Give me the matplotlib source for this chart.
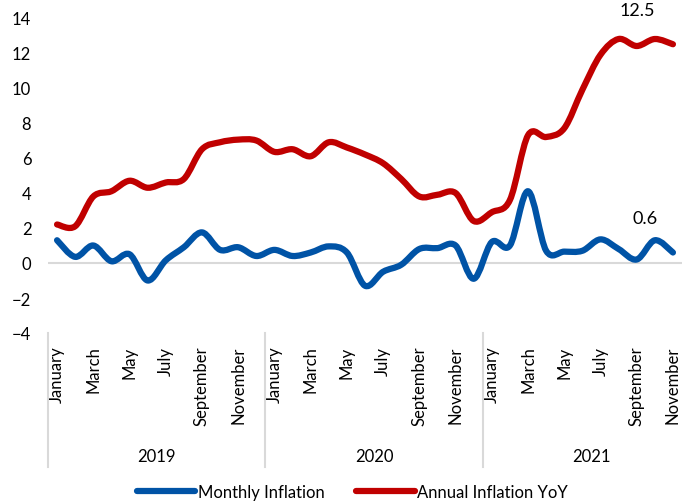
import matplotlib
matplotlib.use("Agg")
import matplotlib.pyplot as plt
from matplotlib.path import Path
from matplotlib.patches import PathPatch
from matplotlib.lines import Line2D
import matplotlib.transforms as mtransforms
import numpy as np

plt.rcParams['font.family'] = ['Lato', 'DejaVu Sans']

# Jan 2019 .. Nov 2021
months = ['January', 'February', 'March', 'April', 'May', 'June', 'July',
          'August', 'September', 'October', 'November', 'December'] * 2 + \
         ['January', 'February', 'March', 'April', 'May', 'June', 'July',
          'August', 'September', 'October', 'November']
years = ['2019', '2020', '2021']
year_counts = [12, 12, 11]

monthly = [1.3, 0.35, 1.0, 0.1, 0.5, -1.0, 0.15, 0.9, 1.75, 0.75, 0.9, 0.4,
           0.75, 0.4, 0.6, 0.95, 0.6, -1.3, -0.5, -0.1, 0.8, 0.85, 1.0, -0.9,
           1.2, 1.0, 4.1, 0.7, 0.65, 0.7, 1.35, 0.8, 0.2, 1.3, 0.6]
annual = [2.2, 2.1, 3.8, 4.1, 4.7, 4.3, 4.6, 4.8, 6.5, 6.9, 7.05, 7.0,
          6.35, 6.5, 6.1, 6.9, 6.6, 6.2, 5.7, 4.8, 3.8, 3.9, 4.0, 2.4,
          2.9, 3.6, 7.3, 7.2, 7.7, 9.9, 11.9, 12.8, 12.4, 12.8, 12.5]

blue = '#0053A6'
red = '#C00000'


def smooth_path(ys):
    # Excel-style smoothed line: cubic Bezier through every point
    ys = np.asarray(ys, dtype=float)
    xs = np.arange(len(ys), dtype=float)
    pts = np.column_stack([xs, ys])
    verts = [pts[0]]
    codes = [Path.MOVETO]
    n = len(pts)
    for i in range(n - 1):
        p0 = pts[i - 1] if i > 0 else pts[i]
        p1 = pts[i]
        p2 = pts[i + 1]
        p3 = pts[i + 2] if i + 2 < n else pts[i + 1]
        c1 = p1 + (p2 - p0) / 6.0
        c2 = p2 - (p3 - p1) / 6.0
        verts += [c1, c2, p2]
        codes += [Path.CURVE4] * 3
    return Path(verts, codes)


fig = plt.figure(figsize=(6.83, 5.02), dpi=100)
ax = fig.add_axes([48 / 683, 168 / 502, 634 / 683, 315 / 502])

ax.axhline(0, color='#D9D9D9', lw=1.5, zorder=1)

for ys, col in [(annual, red), (monthly, blue)]:
    patch = PathPatch(smooth_path(ys), facecolor='none', edgecolor=col,
                      lw=4.5, capstyle='round', joinstyle='round', zorder=3)
    ax.add_patch(patch)

ax.set_xlim(-0.5, len(months) - 0.5)
ax.set_ylim(-4, 14)
ax.set_yticks(np.arange(-4, 15, 2))
for s in ax.spines.values():
    s.set_visible(False)
ax.tick_params(axis='y', length=0, pad=12, labelsize=12)
ax.tick_params(axis='x', length=0, pad=9, labelsize=12)

tick_pos = list(range(0, len(months), 2))
ax.set_xticks(tick_pos)
ax.set_xticklabels([months[i] for i in tick_pos], rotation=90, va='top')

# year groups under the month labels
trans = mtransforms.blended_transform_factory(ax.transData, ax.transAxes)
start = -0.5
for yr, cnt in zip(years, year_counts):
    ax.plot([start, start], [0, -0.425], color='#D9D9D9', lw=1.5,
            transform=trans, clip_on=False)
    center = start + 6 if cnt < 12 else start + cnt / 2
    ax.text(center, -0.39, yr, transform=trans, ha='center', va='center',
            fontsize=12)
    start += cnt

# last-value labels
ax.annotate(f'{annual[-1]:.1f}', (len(annual) - 1, annual[-1]),
            xytext=(-26, 25), textcoords='offset points', ha='center',
            va='center', fontsize=13)
ax.annotate(f'{monthly[-1]:.1f}', (len(monthly) - 1, monthly[-1]),
            xytext=(-20, 25), textcoords='offset points', ha='center',
            va='center', fontsize=13)

handles = [Line2D([], [], color=blue, lw=4.5, solid_capstyle='round'),
           Line2D([], [], color=red, lw=4.5, solid_capstyle='round')]
fig.legend(handles, ['Monthly Inflation', 'Annual Inflation YoY'],
           loc='center', bbox_to_anchor=(0.516, 9 / 502), ncol=2,
           frameon=False, fontsize=12, handlelength=3.5, handletextpad=0.15,
           columnspacing=1.9)

fig.savefig('out.png', dpi=100)
